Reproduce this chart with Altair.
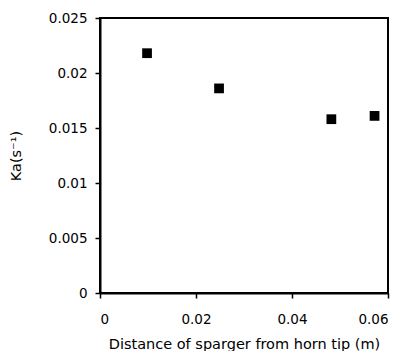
import altair as alt
import pandas as pd

distance = [0.0098, 0.0248, 0.0482, 0.0572]
kla = [0.0218, 0.0186, 0.0158, 0.0161]
x_ticks = [0, 0.02, 0.04, 0.06]
y_ticks = [0, 0.005, 0.01, 0.015, 0.02, 0.025]

df = pd.DataFrame({"d": distance, "k": kla})

chart = alt.Chart(df).mark_point(shape="square", filled=True, color="black", size=95, opacity=1).encode(
    x=alt.X("d:Q", scale=alt.Scale(domain=[0, 0.06], nice=False),
            axis=alt.Axis(values=x_ticks, format="~g", title="Distance of sparger from horn tip (m)",
                          grid=False, tickSize=5, labelPadding=14, titlePadding=12)),
    y=alt.Y("k:Q", scale=alt.Scale(domain=[0, 0.025], nice=False),
            axis=alt.Axis(values=y_ticks, format="~g", title="Ka(s⁻¹)",
                          grid=False, tickSize=5, labelPadding=8, titleX=-77)),
).properties(
    width=288, height=275,
    autosize=alt.AutoSizeParams(type="none"),
    padding={"left": 92, "top": 10, "right": 13, "bottom": 58},
).configure_view(
    stroke="black", strokeWidth=2
).configure_axis(
    domainColor="black", domainWidth=2, tickColor="black", tickWidth=1.5,
    labelColor="black", titleColor="black", labelFont="DejaVu Sans", titleFont="DejaVu Sans",
    labelFontSize=13.5, titleFontSize=14.5, titleFontWeight="normal"
)

chart.save("out.html", embed_options={"renderer": "svg", "actions": False})
